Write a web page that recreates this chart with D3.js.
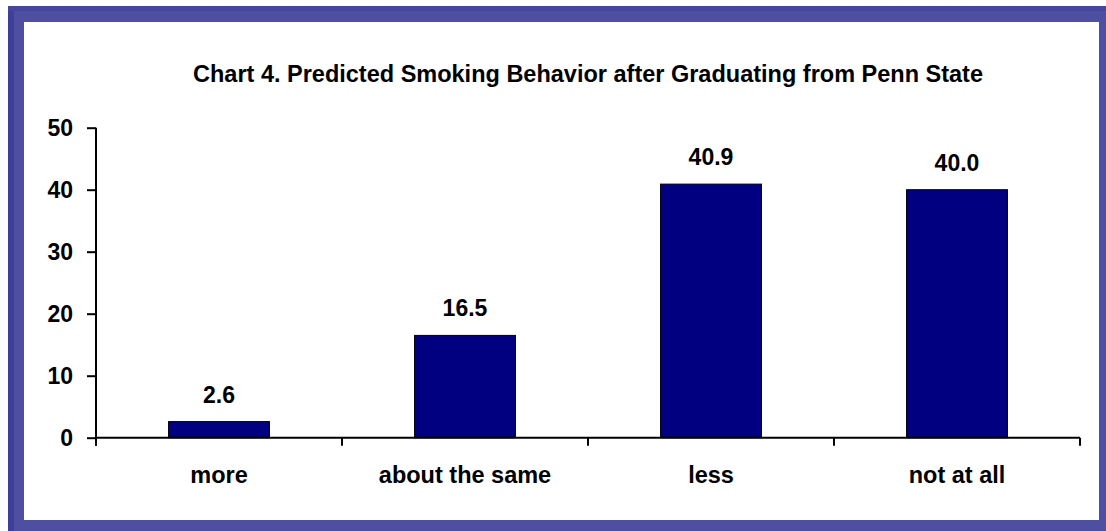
<!DOCTYPE html>
<html>
<head>
<meta charset="utf-8">
<script src="https://cdn.jsdelivr.net/npm/d3@7"></script>
<style>
  html, body { margin: 0; padding: 0; background: #ffffff; }
  svg { display: block; }
  text { font-family: "Liberation Sans", Arial, sans-serif; font-weight: bold; fill: #000; }
</style>
</head>
<body>
<svg id="chart" width="1106" height="531"></svg>
<script>
// Survey responses (% of respondents)
const categories = ["more", "about the same", "less", "not at all"];
const percents = [2.6, 16.5, 40.9, 40.0];
const yTicks = [0, 10, 20, 30, 40, 50];
const title = "Chart 4. Predicted Smoking Behavior after Graduating from Penn State";

const svg = d3.select("#chart");
const W = 1106, H = 531;

// Frame
svg.append("rect").attr("x", 8).attr("y", 6).attr("width", W - 8).attr("height", H - 6).attr("fill", "#4f4fa1");
svg.append("rect").attr("x", 8).attr("y", 6).attr("width", 6).attr("height", H - 6).attr("fill", "#3d3f99");
svg.append("rect").attr("x", 8).attr("y", 6).attr("width", W - 8).attr("height", 5).attr("fill", "#4646a0");
svg.append("rect").attr("x", 24).attr("y", 22).attr("width", 1075).attr("height", 498).attr("fill", "#ffffff");

const plot = { left: 96, right: 1080, top: 127.7, bottom: 437.7 };

const x = d3.scaleBand().domain(categories).range([plot.left, plot.right]).paddingInner(0.59).paddingOuter(0.295);
const y = d3.scaleLinear().domain([0, 50]).range([plot.bottom, plot.top]);

// Title
svg.append("text")
  .attr("x", (plot.left + plot.right) / 2)
  .attr("y", 82)
  .attr("text-anchor", "middle")
  .style("font-size", "23.5px")
  .text(title);

// Bars
svg.selectAll("rect.bar").data(percents).join("rect")
  .attr("class", "bar")
  .attr("x", (d, i) => x(categories[i]))
  .attr("y", d => y(d))
  .attr("width", x.bandwidth())
  .attr("height", d => y(0) - y(d))
  .attr("fill", "#000080")
  .attr("stroke", "#000")
  .attr("stroke-width", 1);

// Value labels
svg.selectAll("text.val").data(percents).join("text")
  .attr("class", "val")
  .attr("x", (d, i) => x(categories[i]) + x.bandwidth() / 2)
  .attr("y", d => y(d) - 19)
  .attr("text-anchor", "middle")
  .style("font-size", "23px")
  .text(d => d.toFixed(1));

// Y axis
const yAxis = svg.append("g").attr("transform", `translate(${plot.left},0)`)
  .call(d3.axisLeft(y).tickValues(yTicks).tickSize(9).tickPadding(14));
yAxis.select(".domain").attr("d", `M0,${plot.top}V${plot.bottom + 8}`).attr("stroke", "#000").attr("stroke-width", 2);
yAxis.selectAll(".tick line").attr("stroke", "#000").attr("stroke-width", 2);
yAxis.selectAll(".tick text").style("font-size", "23px").style("font-family", "'Liberation Sans', Arial, sans-serif").style("font-weight", "bold").attr("fill", "#000");

// X axis baseline with boundary ticks between categories
const boundaries = d3.range(categories.length + 1).map(i => plot.left + i * (plot.right - plot.left) / categories.length);
svg.append("line").attr("x1", plot.left).attr("x2", plot.right).attr("y1", plot.bottom).attr("y2", plot.bottom)
  .attr("stroke", "#000").attr("stroke-width", 2);
svg.selectAll("line.xt").data(boundaries).join("line")
  .attr("class", "xt")
  .attr("x1", d => d).attr("x2", d => d)
  .attr("y1", plot.bottom).attr("y2", plot.bottom + 8)
  .attr("stroke", "#000").attr("stroke-width", 2);

// Category labels
svg.selectAll("text.cat").data(categories).join("text")
  .attr("class", "cat")
  .attr("x", d => x(d) + x.bandwidth() / 2)
  .attr("y", 483)
  .attr("text-anchor", "middle")
  .style("font-size", "23.5px")
  .text(d => d);
</script>
</body>
</html>
